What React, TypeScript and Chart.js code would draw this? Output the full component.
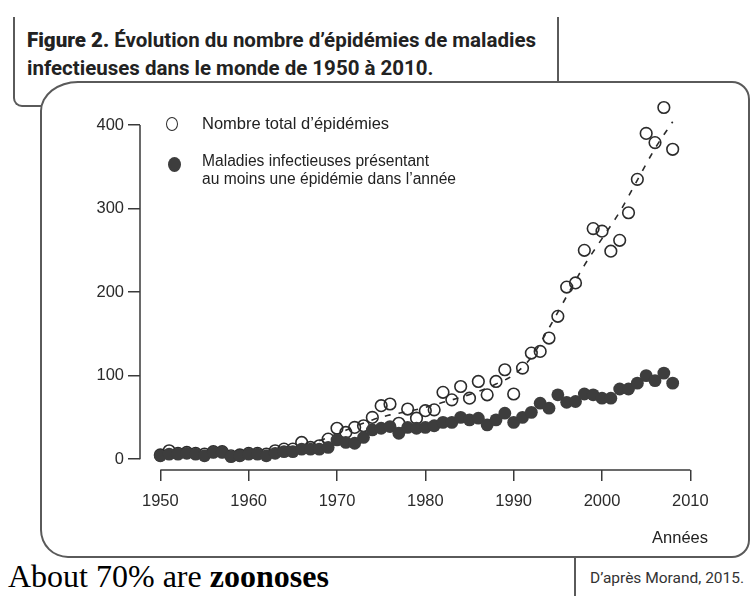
import React, { useEffect, useRef } from 'react';
import { Chart, registerables } from 'chart.js';

Chart.register(...registerables);

// ---------- data ----------
const years = [
  1950, 1951, 1952, 1953, 1954, 1955, 1956, 1957, 1958, 1959,
  1960, 1961, 1962, 1963, 1964, 1965, 1966, 1967, 1968, 1969,
  1970, 1971, 1972, 1973, 1974, 1975, 1976, 1977, 1978, 1979,
  1980, 1981, 1982, 1983, 1984, 1985, 1986, 1987, 1988, 1989,
  1990, 1991, 1992, 1993, 1994, 1995, 1996, 1997, 1998, 1999,
  2000, 2001, 2002, 2003, 2004, 2005, 2006, 2007, 2008,
];

// Nombre total d'épidémies (open circles)
const totalEpidemics = [
  5, 10, 7, 8, 7, 6, 9, 9, 4, 5,
  7, 7, 6, 10, 12, 12, 20, 14, 16, 24,
  37, 32, 38, 40, 50, 64, 66, 43, 60, 49,
  58, 59, 80, 71, 87, 73, 93, 77, 93, 107,
  78, 109, 127, 129, 145, 171, 206, 211, 250, 276,
  273, 249, 262, 295, 335, 390, 379, 421, 371,
];

// Maladies infectieuses présentant au moins une épidémie (filled dots)
const diseasesWithEpidemic = [
  4, 6, 6, 7, 6, 4, 8, 8, 3, 4,
  6, 6, 4, 7, 9, 9, 12, 12, 12, 14,
  23, 20, 19, 26, 35, 37, 39, 31, 38, 37,
  38, 40, 44, 44, 50, 47, 49, 41, 47, 55,
  44, 50, 56, 67, 61, 77, 68, 69, 78, 77,
  73, 73, 84, 84, 91, 100, 94, 103, 91,
];

// dashed trend curve of the total
const trendYears = [1968, 1970, 1972, 1974, 1976, 1978, 1980, 1982, 1984, 1986, 1988, 1990, 1992, 1994, 1996, 1998, 2000, 2002, 2004, 2006, 2008];
const trendValues = [22, 30, 39, 47, 53, 57, 62, 68, 74, 81, 90, 101, 122, 157, 195, 232, 264, 296, 334, 372, 404];

const xTicks = [1950, 1960, 1970, 1980, 1990, 2000, 2010];
const yTicks = [0, 100, 200, 300, 400];

// ---------- styles ----------
const INK = '#2b2b2b';
const AXIS = '#3a3a3a';
const DOT = '#3d3d3d';
const FRAME = '#5a5a5a';
const SANS = '"Liberation Sans", Arial, Helvetica, sans-serif';

const rAxesPlugin = {
  id: 'rAxes',
  afterDraw(chart: any) {
    const { ctx, chartArea, scales } = chart;
    const x = scales.x;
    const y = scales.y;
    ctx.save();
    ctx.strokeStyle = AXIS;
    ctx.lineWidth = 1.5;
    ctx.beginPath();
    ctx.moveTo(chartArea.left, y.getPixelForValue(yTicks[0]));
    ctx.lineTo(chartArea.left, y.getPixelForValue(yTicks[yTicks.length - 1]));
    ctx.moveTo(x.getPixelForValue(xTicks[0]), chartArea.bottom);
    ctx.lineTo(x.getPixelForValue(xTicks[xTicks.length - 1]), chartArea.bottom);
    ctx.stroke();
    ctx.restore();
  },
};

export default function App() {
  const ref = useRef<HTMLCanvasElement>(null);

  useEffect(() => {
    if (!ref.current) return;
    const chart = new Chart(ref.current, {
      type: 'scatter',
      data: {
        datasets: [
          {
            label: 'Maladies infectieuses présentant au moins une épidémie dans l\'année',
            data: years.map((yr, i) => ({ x: yr, y: diseasesWithEpidemic[i] })),
            pointRadius: 6.4,
            pointHoverRadius: 6.4,
            backgroundColor: DOT,
            borderColor: DOT,
            borderWidth: 0,
            order: 0,
          },
          {
            label: 'Nombre total d\'épidémies',
            data: years.map((yr, i) => ({ x: yr, y: totalEpidemics[i] })),
            pointRadius: 5.8,
            pointHoverRadius: 5.8,
            backgroundColor: 'rgba(0,0,0,0)',
            borderColor: INK,
            borderWidth: 1.6,
            order: 1,
          },
          {
            label: 'Tendance',
            data: trendYears.map((yr, i) => ({ x: yr, y: trendValues[i] })),
            showLine: true,
            pointRadius: 0,
            borderColor: INK,
            borderWidth: 1.6,
            borderDash: [6, 8],
            cubicInterpolationMode: 'monotone',
            fill: false,
            order: 2,
          } as any,
        ],
      },
      options: {
        animation: false,
        responsive: false,
        maintainAspectRatio: false,
        events: [],
        layout: { padding: { left: 0, top: 16, right: 47, bottom: 0 } },
        plugins: {
          legend: { display: false },
          tooltip: { enabled: false },
          title: { display: false },
        },
        scales: {
          x: {
            type: 'linear',
            min: 1947.7,
            max: 2010.3,
            afterBuildTicks: (scale: any) => {
              scale.ticks = xTicks.map((v) => ({ value: v }));
            },
            afterFit: (scale: any) => {
              scale.height = 74;
            },
            border: { display: false },
            grid: {
              display: true,
              drawOnChartArea: false,
              drawTicks: true,
              tickLength: 11,
              color: AXIS,
              tickColor: AXIS,
              lineWidth: 1.5,
              tickWidth: 1.5,
            },
            ticks: {
              padding: 11,
              color: INK,
              font: { family: SANS, size: 16.5 },
              maxRotation: 0,
              autoSkip: false,
              callback: (v: any) => String(v),
            },
          },
          y: {
            type: 'linear',
            min: -13,
            max: 430,
            afterBuildTicks: (scale: any) => {
              scale.ticks = yTicks.map((v) => ({ value: v }));
            },
            afterFit: (scale: any) => {
              scale.width = 100;
            },
            border: { display: false },
            grid: {
              display: true,
              drawOnChartArea: false,
              drawTicks: true,
              tickLength: 12,
              color: AXIS,
              tickColor: AXIS,
              lineWidth: 1.5,
              tickWidth: 1.5,
            },
            ticks: {
              padding: 4,
              color: INK,
              font: { family: SANS, size: 16.5 },
              autoSkip: false,
              callback: (v: any) => String(v),
            },
          },
        },
      },
      plugins: [rAxesPlugin],
    } as any);
    return () => chart.destroy();
  }, []);

  const abs = (s: React.CSSProperties): React.CSSProperties => ({ position: 'absolute', ...s });

  return (
    <div style={abs({ left: 0, top: 0, width: 750, height: 596, overflow: 'hidden', background: '#fff' })}>
      {/* title box */}
      <div
        style={abs({
          left: 13,
          top: 17,
          width: 546,
          height: 90,
          boxSizing: 'border-box',
          borderLeft: `2px solid ${FRAME}`,
          borderRight: `2px solid ${FRAME}`,
          borderBottom: `2px solid ${FRAME}`,
          borderBottomLeftRadius: 9,
        })}
      />
      <div
        style={abs({
          left: 27,
          top: 26,
          fontFamily: 'Roboto, "Open Sans", sans-serif',
          fontSize: 20.5,
          lineHeight: '28px',
          color: '#222',
          fontWeight: 700,
          whiteSpace: 'nowrap',
        })}
      >
        <span style={{ fontWeight: 900 }}>Figure 2.</span> Évolution du nombre d’épidémies de maladies
        <br />
        infectieuses dans le monde de 1950 à 2010.
      </div>

      {/* main rounded frame */}
      <div
        style={abs({
          left: 40,
          top: 81,
          width: 710,
          height: 477,
          boxSizing: 'border-box',
          border: `2px solid ${FRAME}`,
          borderTopLeftRadius: '38px 30px',
          borderTopRightRadius: 18,
          borderBottomLeftRadius: 28,
          borderBottomRightRadius: 18,
          background: '#fff',
        })}
      />

      <canvas ref={ref} width={700} height={460} style={abs({ left: 40, top: 84, width: 700, height: 460 })} />

      {/* legend */}
      <div
        style={abs({
          left: 166,
          top: 117,
          width: 12,
          height: 14,
          boxSizing: 'border-box',
          border: `1.6px solid ${INK}`,
          borderRadius: '50%',
        })}
      />
      <div style={abs({ left: 202, top: 113, fontFamily: SANS, fontSize: 16.5, lineHeight: '20px', color: '#222', whiteSpace: 'nowrap' })}>
        Nombre total d’épidémies
      </div>
      <div style={abs({ left: 168, top: 157, width: 13, height: 15, borderRadius: '50%', background: DOT })} />
      <div style={abs({ left: 202, top: 152, fontFamily: SANS, fontSize: 15.6, lineHeight: '18px', color: '#222', whiteSpace: 'nowrap' })}>
        Maladies infectieuses présentant
        <br />
        au moins une épidémie dans l’année
      </div>

      {/* x axis title */}
      <div style={abs({ left: 620, width: 88, top: 527, textAlign: 'right', fontFamily: SANS, fontSize: 16.5, lineHeight: '20px', color: '#222' })}>
        Années
      </div>

      {/* source */}
      <div style={abs({ left: 574, top: 557, width: 2, height: 39, background: FRAME })} />
      <div style={abs({ left: 590, top: 568, fontFamily: 'Roboto, sans-serif', fontSize: 15.5, lineHeight: '20px', color: '#333', whiteSpace: 'nowrap' })}>
        D’après Morand, 2015.
      </div>

      {/* caption */}
      <div style={abs({ left: 8, top: 557, fontFamily: '"Liberation Serif", "Times New Roman", serif', fontSize: 32, lineHeight: '38px', color: '#000', whiteSpace: 'nowrap' })}>
        About 70% are <b>zoonoses</b>
      </div>
    </div>
  );
}
